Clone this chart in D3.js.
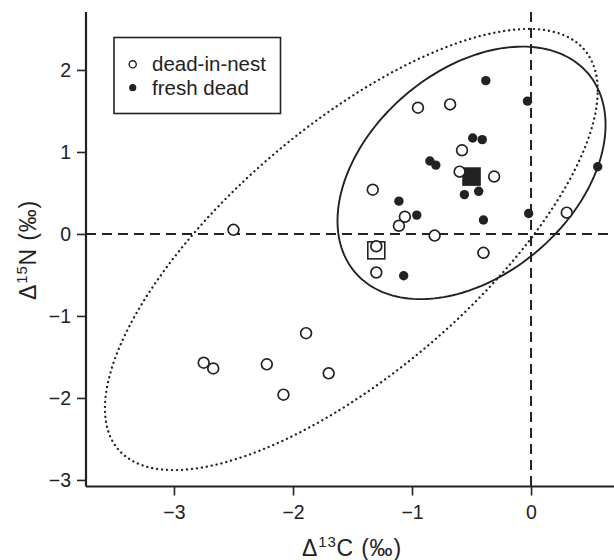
<!DOCTYPE html>
<html>
<head>
<meta charset="utf-8">
<script src="https://cdn.jsdelivr.net/npm/d3@7"></script>
<style>
  body { margin: 0; background: #fff; }
  svg { display: block; font-family: "Liberation Sans", Arial, sans-serif; }
</style>
</head>
<body>
<div id="chart"></div>
<script>
// Data (per mil)
var nestX = [-2.50, -0.95, -0.68, -0.58, -0.60, -0.31, -1.33, -1.06, -1.11, -0.81,
             -0.40, -1.30, -1.30, 0.30, -1.89, -2.75, -2.67, -2.22, -1.70, -2.08];
var nestY = [0.05, 1.54, 1.58, 1.02, 0.76, 0.70, 0.54, 0.21, 0.10, -0.02,
             -0.23, -0.15, -0.47, 0.26, -1.21, -1.57, -1.64, -1.59, -1.70, -1.96];
var freshX = [-0.38, -0.03, -0.49, -0.41, -0.85, -0.80, -0.56, -0.44, -1.11, -0.96,
              -0.40, -0.02, 0.56, -1.07];
var freshY = [1.87, 1.62, 1.17, 1.15, 0.89, 0.84, 0.48, 0.52, 0.40, 0.23,
              0.17, 0.25, 0.82, -0.51];
// group means (squares)
var meanX = [-1.30, -0.50];
var meanY = [-0.20, 0.70];
// ellipses: centre, half-extent in x and y, correlation
var ellNames = ["dead-in-nest", "fresh dead"];
var ellCx = [-1.51, -0.50];
var ellCy = [-0.19, 0.745];
var ellRx = [2.07, 1.126];
var ellRy = [2.69, 1.54];
var ellRho = [0.72, 0.38];

var xTicks = [-3, -2, -1, 0];
var yTicks = [-3, -2, -1, 0, 1, 2];

var width = 614, height = 560;
var ink = "#222";

var svg = d3.select("#chart").append("svg")
    .attr("width", width)
    .attr("height", height);

var plotLeft = 86, plotRight = 614, plotTop = 12, plotBottom = 486.5;

var x = d3.scaleLinear().domain([-3.739, 0.697]).range([plotLeft, plotRight]);
var y = d3.scaleLinear().domain([-3.08, 2.707]).range([plotBottom, plotTop]);

// ellipses
var steps = d3.range(0, 360, 2).map(function(d) { return d * Math.PI / 180; });
var ellLine = d3.line().curve(d3.curveLinearClosed);
ellNames.forEach(function(name, i) {
    var delta = Math.acos(ellRho[i]);
    var pts = steps.map(function(t) {
        return [x(ellCx[i] + ellRx[i] * Math.cos(t)),
                y(ellCy[i] + ellRy[i] * Math.cos(t - delta))];
    });
    svg.append("path")
        .attr("d", ellLine(pts))
        .attr("fill", "none")
        .attr("stroke", ink)
        .attr("stroke-width", i == 0 ? 2.3 : 1.9)
        .attr("stroke-linecap", i == 0 ? "round" : "butt")
        .attr("stroke-dasharray", i == 0 ? "0.1 4.9" : null);
});

// zero reference lines
svg.append("line")
    .attr("x1", plotLeft).attr("x2", plotRight)
    .attr("y1", y(0)).attr("y2", y(0))
    .attr("stroke", ink).attr("stroke-width", 2)
    .attr("stroke-dasharray", "10 6");
svg.append("line")
    .attr("x1", x(0)).attr("x2", x(0))
    .attr("y1", plotTop).attr("y2", plotBottom)
    .attr("stroke", ink).attr("stroke-width", 2)
    .attr("stroke-dasharray", "10 6");

// axes
var fmt = function(d) { return d < 0 ? "\u2212" + Math.abs(d) : d; };
var xAxis = svg.append("g")
    .attr("transform", "translate(0," + plotBottom + ")")
    .call(d3.axisBottom(x).tickValues(xTicks).tickSize(9).tickPadding(10).tickFormat(fmt));
var yAxis = svg.append("g")
    .attr("transform", "translate(" + plotLeft + ",0)")
    .call(d3.axisLeft(y).tickValues(yTicks).tickSize(9).tickPadding(6).tickFormat(fmt));
[xAxis, yAxis].forEach(function(g) {
    g.select(".domain").attr("stroke", ink).attr("stroke-width", 2.2);
    g.selectAll(".tick line").attr("stroke", ink).attr("stroke-width", 1.6);
    g.selectAll(".tick text")
        .attr("fill", ink)
        .style("font-size", "19.5px")
        .style("font-family", "Liberation Sans, Arial, sans-serif");
});
xAxis.select(".domain").attr("d", "M" + plotLeft + ",0H" + plotRight);
yAxis.select(".domain").attr("d", "M0," + plotTop + "V" + plotBottom);

// group mean squares
var sq = 17;
svg.selectAll("rect.mean")
    .data(meanX)
    .enter().append("rect")
    .attr("class", "mean")
    .attr("x", function(d) { return x(d) - sq / 2; })
    .attr("y", function(d, i) { return y(meanY[i]) - sq / 2; })
    .attr("width", sq).attr("height", sq)
    .attr("fill", function(d, i) { return i == 0 ? "white" : ink; })
    .attr("stroke", ink)
    .attr("stroke-width", 1.6);

// points
svg.selectAll("circle.fresh")
    .data(freshX)
    .enter().append("circle")
    .attr("class", "fresh")
    .attr("cx", function(d) { return x(d); })
    .attr("cy", function(d, i) { return y(freshY[i]); })
    .attr("r", 4.7)
    .attr("fill", ink);

svg.selectAll("circle.nest")
    .data(nestX)
    .enter().append("circle")
    .attr("class", "nest")
    .attr("cx", function(d) { return x(d); })
    .attr("cy", function(d, i) { return y(nestY[i]); })
    .attr("r", 5.4)
    .attr("fill", "white")
    .attr("stroke", ink)
    .attr("stroke-width", 1.7);

// legend
var legend = svg.append("g");
legend.append("rect")
    .attr("x", 114).attr("y", 37.5)
    .attr("width", 166.5).attr("height", 76)
    .attr("fill", "white")
    .attr("stroke", ink)
    .attr("stroke-width", 1.6);
legend.append("circle")
    .attr("cx", 132.7).attr("cy", 64.3).attr("r", 3.6)
    .attr("fill", "white").attr("stroke", ink).attr("stroke-width", 1.4);
legend.append("circle")
    .attr("cx", 132.7).attr("cy", 87.7).attr("r", 3.6)
    .attr("fill", ink);
legend.append("text")
    .attr("x", 152).attr("y", 71)
    .attr("fill", ink)
    .style("font-size", "20.5px")
    .text(ellNames[0]);
legend.append("text")
    .attr("x", 152).attr("y", 94.5)
    .attr("fill", ink)
    .style("font-size", "20.5px")
    .text(ellNames[1]);

// axis titles
var xt = svg.append("text")
    .attr("x", 352).attr("y", 556)
    .attr("text-anchor", "middle")
    .attr("fill", ink)
    .style("font-size", "23px")
    .style("letter-spacing", "0.8px");
xt.append("tspan").text("\u0394");
xt.append("tspan").attr("dy", -9).style("font-size", "15px").text("13");
xt.append("tspan").attr("dy", 9).text("C (\u2030)");

var yt = svg.append("text")
    .attr("transform", "translate(36,250) rotate(-90)")
    .attr("text-anchor", "middle")
    .attr("fill", ink)
    .style("font-size", "23px")
    .style("letter-spacing", "0.8px");
yt.append("tspan").text("\u0394");
yt.append("tspan").attr("dy", -9).style("font-size", "15px").text("15");
yt.append("tspan").attr("dy", 9).text("N (\u2030)");
</script>
</body>
</html>
